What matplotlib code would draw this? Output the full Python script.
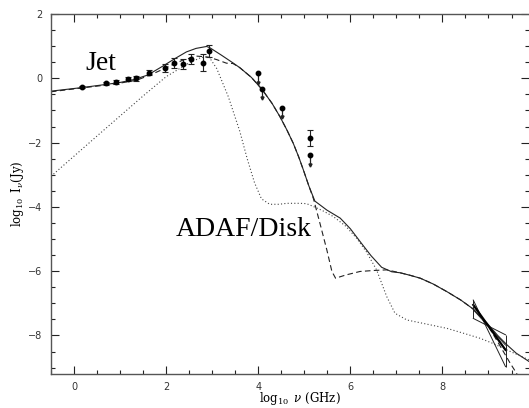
import numpy as np
import matplotlib.pyplot as plt
from matplotlib.ticker import MultipleLocator

plt.rcParams['mathtext.fontset'] = 'dejavuserif'

# Spektrale Energieverteilung: log10 nu [GHz] gegen log10 I_nu [Jy]

# Messpunkte mit symmetrischen Fehlerbalken
obs_x = [0.17, 0.70, 0.92, 1.17, 1.34, 1.62, 1.97, 2.17, 2.36, 2.55, 2.81, 2.93, 5.12]
obs_y = [-0.28, -0.16, -0.12, -0.02, 0.00, 0.17, 0.33, 0.47, 0.44, 0.59, 0.49, 0.85, -1.87]
obs_err = [0.03, 0.05, 0.07, 0.07, 0.08, 0.08, 0.12, 0.15, 0.15, 0.15, 0.26, 0.20, 0.25]

# Obergrenzen (Punkt oben, Pfeil nach unten)
lim_x = [3.99, 4.08, 4.52, 5.12]
lim_y = [0.17, -0.34, -0.93, -2.39]
lim_len = [0.33, 0.28, 0.28, 0.31]

# Gesamtmodell (durchgezogen)
total_x = [-0.5, 0.17, 0.7, 1.0, 1.3, 1.6, 1.93, 2.2, 2.44, 2.65, 2.88, 2.95, 3.2, 3.45,
           3.6, 3.85, 4.08, 4.3, 4.47, 4.62, 4.76, 4.88, 4.98, 5.1, 5.23, 5.49, 5.78,
           6.0, 6.25, 6.45, 6.68, 6.9, 7.08, 7.3, 7.52, 7.8, 8.1, 8.4, 8.67, 8.97, 9.2,
           9.4, 9.6, 9.88]
total_y = [-0.40, -0.29, -0.19, -0.13, -0.04, 0.10, 0.38, 0.62, 0.82, 0.93, 0.99, 0.95,
           0.72, 0.48, 0.33, 0.03, -0.34, -0.78, -1.19, -1.60, -2.02, -2.45, -2.85, -3.35,
           -3.82, -4.10, -4.35, -4.68, -5.15, -5.52, -5.88, -6.02, -6.05, -6.13, -6.22,
           -6.40, -6.64, -6.90, -7.18, -7.62, -8.00, -8.29, -8.55, -8.81]

# Jet-Modell (gestrichelt)
jet_x = [-0.5, 0.17, 0.7, 1.0, 1.36, 1.65, 1.93, 2.15, 2.37, 2.66, 2.91, 3.1, 3.31, 3.45,
         3.6, 3.85, 4.08, 4.3, 4.47, 4.62, 4.76, 4.88, 4.98, 5.1, 5.2, 5.34, 5.49, 5.6,
         5.68, 5.9, 6.21, 6.5, 6.79, 7.08, 7.3, 7.52, 7.8, 8.1, 8.4, 8.67, 8.97, 9.2,
         9.47, 9.62]
jet_y = [-0.42, -0.30, -0.21, -0.15, -0.06, 0.10, 0.28, 0.43, 0.57, 0.69, 0.66, 0.58,
         0.47, 0.46, 0.33, 0.03, -0.34, -0.78, -1.19, -1.60, -2.02, -2.45, -2.85, -3.35,
         -3.75, -4.51, -5.34, -6.01, -6.22, -6.12, -6.01, -5.98, -5.96, -6.05, -6.13,
         -6.22, -6.40, -6.64, -6.90, -7.18, -7.65, -8.20, -8.86, -9.20]

# ADAF/Scheibe (gepunktet)
adaf_x = [-0.5, 0.56, 1.5, 2.0, 2.5, 2.75, 2.93, 3.1, 3.35, 3.6, 3.76, 3.92, 4.07, 4.25,
          4.45, 4.62, 4.91, 5.05, 5.2, 5.4, 5.63, 5.9, 6.14, 6.35, 6.57, 6.79, 6.97, 7.23,
          7.6, 8.1, 8.5, 8.82, 9.1, 9.4, 9.88]
adaf_y = [-3.05, -1.72, -0.55, 0.05, 0.48, 0.64, 0.67, 0.30, -0.57, -1.65, -2.50, -3.25,
          -3.75, -3.92, -3.92, -3.89, -3.89, -3.90, -3.99, -4.12, -4.30, -4.60, -4.98,
          -5.40, -5.96, -6.79, -7.31, -7.52, -7.63, -7.78, -7.95, -8.09, -8.25, -8.45,
          -8.76]

# Röntgen-"Bowtie": Endpunkte der Spektralindex-Grenzen
bow_x = [8.67, 9.37]
bow_steep = [-6.90, -8.97]
bow_flat = [-7.47, -7.98]
bow_best = [-7.05, -8.45]
bow_alt = [-7.20, -8.30]

fig = plt.figure(figsize=(5.29, 4.08), dpi=100)
ax = fig.add_axes([0.0964, 0.0833, 0.9036, 0.8824])

ink = '#222222'
ax.plot(total_x, total_y, '-', color=ink, lw=0.8)
ax.plot(jet_x, jet_y, color=ink, lw=0.8, dashes=(5, 3))
ax.plot(adaf_x, adaf_y, color='#444444', lw=0.8, dashes=(1, 2))

ax.errorbar(obs_x, obs_y, yerr=obs_err, fmt='o', ms=3.2, color='black',
            ecolor=ink, elinewidth=0.8, capsize=2, capthick=0.8)

lim_lo = np.array(lim_y) - np.array(lim_len)
ax.errorbar(lim_x, lim_y, yerr=[lim_len, np.zeros(len(lim_len))], fmt='o', ms=3.2,
            color='black', ecolor=ink, elinewidth=0.9, capsize=0)
ax.plot(lim_x, lim_lo, 'v', ms=2.2, color=ink, lw=0)

# Bowtie
ax.plot(bow_x, bow_steep, color=ink, lw=0.7)
ax.plot(bow_x, bow_flat, color=ink, lw=0.7)
ax.plot(bow_x, bow_alt, color=ink, lw=0.7)
ax.plot(bow_x, bow_best, color='black', lw=1.6)
ax.vlines(bow_x, [bow_steep[0], bow_steep[1]], [bow_flat[0], bow_flat[1]],
          color=ink, lw=0.7)

ax.text(0.25, 0.26, 'Jet', fontsize=20, family='Liberation Serif',
        ha='left', va='baseline')
ax.text(2.2, -4.9, 'ADAF/Disk', fontsize=20, family='Liberation Serif',
        ha='left', va='baseline')

ax.set_xlim(-0.5, 9.88)
ax.set_ylim(-9.2, 2)
ax.xaxis.set_major_locator(MultipleLocator(2))
ax.xaxis.set_minor_locator(MultipleLocator(0.5))
ax.yaxis.set_major_locator(MultipleLocator(2))
ax.yaxis.set_minor_locator(MultipleLocator(0.5))
ax.tick_params(which='both', direction='in', top=True, right=True,
               color=ink, width=0.8, labelsize=7, labelcolor='#333333', pad=6)
ax.tick_params(which='major', length=6)
ax.tick_params(which='minor', length=3)
for s in ax.spines.values():
    s.set_color('#555555')
    s.set_linewidth(1.0)
ax.spines['right'].set_visible(False)

ax.set_xlabel(r'$\log_{10}\ \nu\ \mathrm{(GHz)}$', fontsize=8.5)
ax.set_ylabel(r'$\log_{10}\ \mathrm{I}_\nu\mathrm{(Jy)}$', fontsize=8.5)
ax.xaxis.set_label_coords(0.52, -0.045)
ax.yaxis.set_label_coords(-0.052, 0.5)

fig.savefig('out.png', dpi=100)
